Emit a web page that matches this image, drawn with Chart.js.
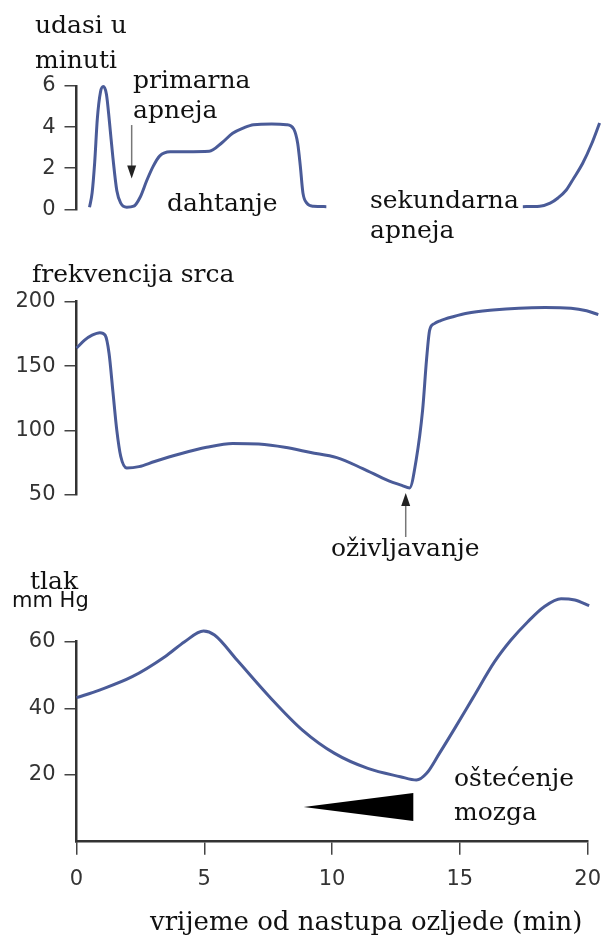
<!DOCTYPE html>
<html>
<head>
<meta charset="utf-8">
<script src="https://cdn.jsdelivr.net/npm/chart.js@4.4.1/dist/chart.umd.min.js"></script>
<style>
  html, body { margin: 0; padding: 0; background: #fff; }
  #wrap { position: relative; width: 613px; height: 941px; }
  #wrap canvas { position: absolute; left: 0; top: 0; }
</style>
</head>
<body>
<div id="wrap">
  <canvas id="breathChart" width="613" height="941"></canvas>
  <canvas id="heartChart" width="613" height="941"></canvas>
  <canvas id="pressureChart" width="613" height="941"></canvas>
</div>
<script>
// time axis (min) and the three traces
const breathTimesA = [0.5, 0.6, 0.7, 0.8, 0.92, 1.03, 1.15, 1.27, 1.4, 1.55, 1.7, 1.93, 2.2, 2.45, 2.7, 2.95, 3.2, 3.6, 4.2, 5.1, 5.6, 6.0, 6.4, 6.8, 7.5, 8.07, 8.35, 8.5, 8.6, 8.7, 8.85, 9.1, 9.6];
const breathRateA  = [0.1, 0.8, 2.3, 4.4, 5.7, 5.97, 5.6, 4.2, 2.5, 0.9, 0.3, 0.1, 0.15, 0.6, 1.4, 2.1, 2.6, 2.8, 2.8, 2.82, 3.25, 3.7, 3.95, 4.12, 4.15, 4.12, 3.9, 3.2, 2.1, 0.8, 0.3, 0.15, 0.13];
const breathTimesB = [17.15, 17.8, 18.2, 18.5, 18.82, 19.1, 19.45, 19.8, 20.1];
const breathRateB  = [0.13, 0.15, 0.3, 0.55, 0.94, 1.5, 2.24, 3.2, 4.2];

const heartTimes = [0, 0.3, 0.6, 0.9, 1.1, 1.25, 1.4, 1.55, 1.7, 1.93, 2.4, 3, 4, 5, 6, 7, 8, 9, 10, 11, 12, 12.5, 12.8, 13.05, 13.3, 13.45, 13.57, 13.75, 13.95, 14.5, 15, 16, 17, 18, 19, 19.6, 20.05];
const heartRate  = [164, 170, 174, 176, 174, 160, 130, 100, 80, 71, 72, 76, 82, 87, 90, 89.5, 87, 83, 79, 70.5, 61, 57.5, 55.5, 77, 116, 155, 178, 183, 185, 188.5, 191, 193.5, 195, 195.5, 195, 193, 190];

const pressureTimes = [0, 0.9, 2.18, 3.46, 4.23, 4.97, 5.4, 6.28, 7.55, 8.84, 10.1, 11.4, 12.67, 13.3, 13.7, 14.2, 14.8, 15.5, 16.36, 17.0, 17.66, 18.3, 18.96, 19.5, 20.06];
const pressure      = [43.2, 45.5, 49.5, 55.5, 60, 63.2, 62, 54.5, 43.5, 33.5, 26.5, 22, 19.5, 18.5, 20.5, 26.5, 34, 43, 54, 60.5, 66, 70.5, 72.9, 72.5, 70.8];

// brain damage wedge: tip, then the two right corners (min, mm Hg)
const wedgeTimes  = [8.89, 13.18, 13.18];
const wedgeValues = [10.4, 14.6, 6.2];

const lineColor = '#4a5b98';
const serif = '25px "DejaVu Serif"';
const sans = '21px "DejaVu Sans"';

function points(xs, ys) {
    return xs.map((x, i) => ({ x: x, y: ys[i] }));
}

function trace(xs, ys) {
    return {
        data: points(xs, ys),
        borderColor: lineColor,
        borderWidth: 3,
        pointRadius: 0,
        fill: false,
        clip: false,
        cubicInterpolationMode: 'monotone'
    };
}

function text(ctx, str, x, y, font) {
    ctx.save();
    ctx.font = font || serif;
    ctx.fillStyle = '#111';
    ctx.textAlign = 'left';
    ctx.textBaseline = 'alphabetic';
    ctx.fillText(str, x, y);
    ctx.restore();
}

function arrow(ctx, x, y0, y1) {
    // shaft from y0 to the tip at y1
    const dir = y1 > y0 ? 1 : -1;
    ctx.save();
    ctx.strokeStyle = '#777';
    ctx.lineWidth = 1.5;
    ctx.beginPath();
    ctx.moveTo(x, y0);
    ctx.lineTo(x, y1 - dir * 10);
    ctx.stroke();
    ctx.fillStyle = '#222';
    ctx.beginPath();
    ctx.moveTo(x, y1);
    ctx.lineTo(x - 4.5, y1 - dir * 13);
    ctx.lineTo(x + 4.5, y1 - dir * 13);
    ctx.closePath();
    ctx.fill();
    ctx.restore();
}

function axisOptions(o) {
    return {
        x: {
            type: 'linear', min: 0, max: 20,
            display: o.showX,
            afterFit: s => { if (o.showX) s.height = 99.3; },
            border: { display: true, color: '#333', width: 2.5 },
            grid: { drawOnChartArea: false, drawTicks: true, tickLength: 13, tickColor: '#444', lineWidth: 1.5 },
            ticks: { stepSize: 5, padding: 12, color: '#333', font: { family: 'DejaVu Sans', size: 21 } }
        },
        y: {
            type: 'linear', min: o.min, max: o.max,
            afterFit: s => { s.width = 76.5; },
            afterBuildTicks: s => { if (o.hideZero) s.ticks = s.ticks.filter(t => t.value !== 0); },
            border: { display: true, color: '#333', width: 2.5 },
            grid: { drawOnChartArea: false, drawTicks: true, tickLength: 12, tickColor: '#444', lineWidth: 1.5 },
            ticks: { stepSize: o.step, padding: 9, color: '#333', font: { family: 'DejaVu Sans', size: 21 } }
        }
    };
}

function makeChart(id, datasets, o, drawNotes) {
    new Chart(document.getElementById(id), {
        type: 'line',
        data: { datasets: datasets },
        options: {
            responsive: false,
            animation: false,
            events: [],
            layout: { padding: { top: o.top, bottom: o.bottom, left: 0, right: 16 } },
            scales: axisOptions(o),
            plugins: { legend: { display: false }, tooltip: { enabled: false } }
        },
        plugins: [{
            id: 'notes',
            afterDraw: chart => drawNotes(chart.ctx, chart.scales.x, chart.scales.y)
        }]
    });
}

// breathing
makeChart('breathChart',
    [trace(breathTimesA, breathRateA), trace(breathTimesB, breathRateB)],
    { min: 0, max: 6, step: 2, top: 86, bottom: 731.7, showX: false },
    (ctx, x, y) => {
        text(ctx, 'udasi u', 35, 33);
        text(ctx, 'minuti', 35, 68);
        text(ctx, 'primarna', 133, 88);
        text(ctx, 'apneja', 133, 118);
        text(ctx, 'dahtanje', 167, 211);
        text(ctx, 'sekundarna', 370, 208);
        text(ctx, 'apneja', 370, 238);
        arrow(ctx, x.getPixelForValue(2.12), y.getPixelForValue(4.1), y.getPixelForValue(1.5));
    });

// heart rate
makeChart('heartChart',
    [trace(heartTimes, heartRate)],
    { min: 50, max: 200, step: 50, top: 301.7, bottom: 446, showX: false },
    (ctx, x, y) => {
        text(ctx, 'frekvencija srca', 32, 282);
        text(ctx, 'oživljavanje', 331, 556);
        arrow(ctx, x.getPixelForValue(12.65), y.getPixelForValue(17.4), y.getPixelForValue(51.5));
    });

// blood pressure
makeChart('pressureChart',
    [trace(pressureTimes, pressure)],
    { min: 0, max: 60, step: 20, top: 641.7, bottom: 0, showX: true, hideZero: true },
    (ctx, x, y) => {
        text(ctx, 'tlak', 30, 589);
        text(ctx, 'mm Hg', 12, 607, sans);
        text(ctx, 'oštećenje', 454, 786);
        text(ctx, 'mozga', 454, 820);
        text(ctx, 'vrijeme od nastupa ozljede (min)', 150, 930, '26px "DejaVu Serif"');
        ctx.save();
        ctx.fillStyle = '#000';
        ctx.beginPath();
        wedgeTimes.forEach((t, i) => {
            const px = x.getPixelForValue(t), py = y.getPixelForValue(wedgeValues[i]);
            if (i === 0) ctx.moveTo(px, py); else ctx.lineTo(px, py);
        });
        ctx.closePath();
        ctx.fill();
        ctx.restore();
    });
</script>
</body>
</html>
